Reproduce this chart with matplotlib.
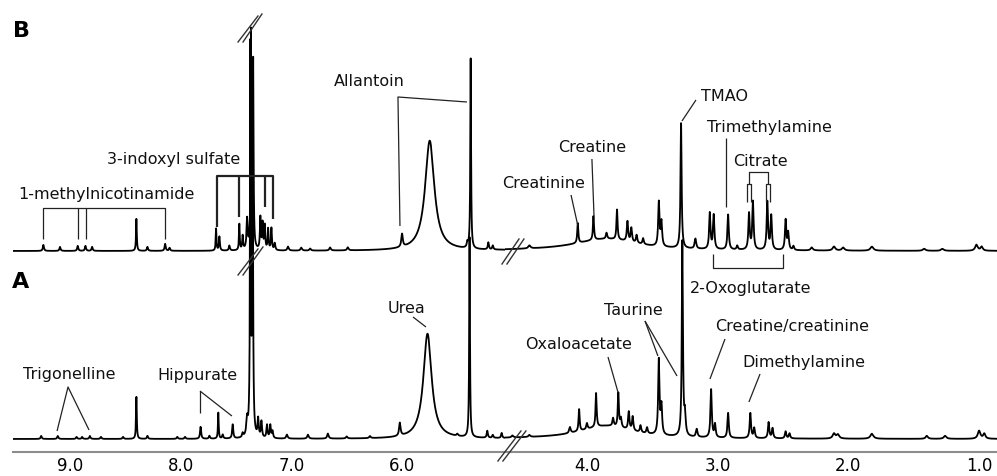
import numpy as np
import matplotlib
matplotlib.use("Agg")
import matplotlib.pyplot as plt

# ---------------- data: peak lists (ppm, height, half-width) ----------------
A_ppm = [9.26, 9.11, 8.94, 8.89, 8.82, 8.72, 8.52, 8.40, 8.30, 8.03, 7.96, 7.82, 7.74, 7.66, 7.62,
         7.53, 7.44, 7.40, 7.37, 7.35, 7.30, 7.27, 7.22, 7.19, 7.17, 7.04, 6.85, 6.67, 6.50, 6.29,
         6.02, 5.77, 5.50, 5.39, 5.23, 5.18, 5.10,
         4.57, 4.44, 4.13, 4.06, 4.00, 3.93, 3.80, 3.76, 3.74, 3.68, 3.65, 3.59, 3.54, 3.85,
         3.45, 3.43, 3.27, 3.25, 3.16, 3.05, 3.02, 2.92, 2.75, 2.72, 2.61, 2.58, 2.48, 2.45,
         2.11, 2.08, 1.82, 1.40, 1.26, 1.00, 0.96]
A_height = [3, 3, 2, 2, 3, 2, 2, 42, 3, 2, 2, 12, 3, 26, 4,
            14, 4, 16, 385, 355, 18, 16, 13, 13, 7, 4, 4, 5, 2, 2,
            13, 105, 2, 200, 7, 3, 5,
            2, 2, 6, 22, 6, 34, 8, 34, 9, 18, 14, 7, 6, 13,
            75, 28, 195, 20, 8, 48, 13, 25, 25, 10, 16, 10, 7, 5,
            5, 4, 5, 3, 3, 8, 5]
A_width = [.006, .006, .006, .006, .006, .006, .006, .004, .006, .006, .006, .006, .006, .004, .006,
           .006, .006, .008, .004, .004, .006, .006, .006, .006, .006, .008, .008, .008, .008, .008,
           .008, .045, .008, .004, .006, .006, .006,
           .008, .008, .007, .005, .006, .005, .006, .005, .006, .006, .006, .006, .006, .25,
           .006, .006, .005, .006, .007, .006, .006, .006, .006, .006, .006, .006, .006, .006,
           .012, .012, .014, .01, .012, .012, .01]

B_ppm = [9.24, 9.09, 8.93, 8.86, 8.80, 8.40, 8.30, 8.14, 8.10, 7.68, 7.65, 7.56, 7.47, 7.44, 7.40,
         7.365, 7.345, 7.28, 7.26, 7.24, 7.21, 7.18, 7.15, 7.03, 6.91, 6.83, 6.65, 6.49,
         6.00, 5.75, 5.41, 5.38, 5.22, 5.18,
         4.44, 3.85, 4.07, 3.95, 3.85, 3.77, 3.69, 3.66, 3.62, 3.57, 3.45, 3.43, 3.28, 3.17,
         3.06, 3.03, 2.92, 2.85, 2.76, 2.73, 2.62, 2.59, 2.48, 2.46, 2.42, 2.28, 2.11, 2.04,
         1.82, 1.42, 1.28, 1.02, 0.98]
B_height = [6, 4, 5, 5, 4, 32, 4, 7, 3, 22, 14, 5, 26, 14, 30,
            215, 185, 32, 26, 24, 21, 22, 7, 4, 3, 2, 3, 3,
            13, 110, 5, 190, 7, 4,
            3, 12, 20, 24, 6, 30, 20, 14, 8, 6, 44, 24, 125, 10,
            36, 34, 35, 4, 36, 48, 48, 34, 30, 17, 4, 3, 4, 3,
            4, 2, 2, 6, 4]
B_width = [.006, .006, .006, .006, .006, .004, .006, .006, .006, .004, .005, .006, .004, .005, .006,
           .004, .004, .005, .005, .005, .005, .005, .006, .008, .008, .008, .008, .008,
           .008, .05, .006, .004, .006, .006,
           .01, .3, .005, .005, .006, .005, .006, .006, .006, .006, .006, .006, .005, .007,
           .006, .006, .006, .006, .006, .006, .006, .006, .006, .006, .006, .01, .012, .012,
           .014, .012, .012, .012, .01]

B_offset = 188

left_ticks = [9.0, 8.0, 7.0, 6.0]
right_ticks = [4.0, 3.0, 2.0, 1.0]
left_range = (9.515, 5.07)
right_range = (4.627, 0.863)


def spectrum(x, pos, hgt, wid):
    y = np.zeros_like(x)
    for p, h, w in zip(pos, hgt, wid):
        y += h / (1.0 + ((x - p) / w) ** 2)
    return y


fig = plt.figure(figsize=(9.97, 4.77), dpi=100)
fig.patch.set_facecolor("white")
W, H = 997, 477
axL = fig.add_axes([13 / W, 24 / H, 492 / W, 453 / H])
axR = fig.add_axes([505 / W, 24 / H, 492 / W, 453 / H])

LW = 1.3
for ax, rng, ticks in [(axL, left_range, left_ticks), (axR, right_range, right_ticks)]:
    x = np.arange(rng[1] - 0.01, rng[0] + 0.01, 0.0005)
    yA = spectrum(x, A_ppm, A_height, A_width)
    yB = spectrum(x, B_ppm, B_height, B_width) + B_offset
    ax.plot(x, yA, color="black", lw=LW, zorder=3)
    ax.plot(x, yB, color="black", lw=LW, zorder=3)
    ax.set_xlim(*rng)
    ax.set_ylim(-13, 440)
    ax.set_xticks(ticks)
    ax.set_xticklabels([f"{t:.1f}" for t in ticks], fontsize=12)
    ax.tick_params(axis="x", length=0, pad=3)
    ax.set_yticks([])
    for s in ["top", "left", "right"]:
        ax.spines[s].set_visible(False)
    ax.spines["bottom"].set_color("#8c8c8c")
    ax.spines["bottom"].set_linewidth(1.5)
    ax.patch.set_alpha(0)

FS = 11.5
lc = "#222222"
lw = 0.9


def txt(ax, x, y, s):
    ax.text(x, y, s, fontsize=FS, ha="left", va="baseline", color="#111111", clip_on=False, zorder=5)


def line(ax, xs, ys, w=lw):
    ax.plot(xs, ys, color=lc, lw=w, clip_on=False, zorder=4, solid_capstyle="butt")


# ---- B annotations ----
txt(axL, 9.47, 241, "1-methylnicotinamide")
line(axL, [9.244, 9.244, 8.142, 8.142], [200, 231, 231, 200])
line(axL, [8.928, 8.928], [231, 200])
line(axL, [8.855, 8.855], [231, 200])

txt(axL, 8.666, 276, "3-indoxyl sulfate")
line(axL, [7.672, 7.672, 7.166, 7.166], [212, 263, 263, 220], w=1.6)
line(axL, [7.473, 7.473], [263, 222], w=1.6)
line(axL, [7.238, 7.238], [263, 232], w=1.6)

txt(axL, 6.615, 354, "Allantoin")
line(axL, [6.019, 6.037, 5.414], [213, 342, 337])

txt(axR, 4.650, 252, "Creatinine")
line(axR, [4.122, 4.069], [244, 213])
txt(axR, 4.222, 288, "Creatine")
line(axR, [3.962, 3.946], [280, 223])

txt(axR, 3.128, 339, "TMAO")
line(axR, [3.166, 3.273], [339, 318])
txt(axR, 3.082, 308, "Trimethylamine")
line(axR, [2.936, 2.936], [301, 232])
txt(axR, 2.883, 274, "Citrate")
line(axR, [2.761, 2.761, 2.615, 2.615], [255, 267, 267, 255])
for c in [2.761, 2.615]:
    line(axR, [c + 0.015, c + 0.015, c - 0.016, c - 0.016], [237, 255, 255, 237])

line(axR, [3.036, 3.036, 2.500, 2.500], [185, 171, 171, 185])
txt(axR, 3.212, 147, "2-Oxoglutarate")

# ---- A annotations ----
txt(axL, 9.425, 61, "Trigonelline")
line(axL, [9.117, 9.018, 8.828], [8, 52, 9])
txt(axL, 8.214, 60, "Hippurate")
line(axL, [7.826, 7.826], [26, 48])
line(axL, [7.826, 7.537], [48, 23])
txt(axL, 6.127, 127, "Urea")
line(axL, [5.901, 5.784], [122, 112])

txt(axR, 4.474, 91, "Oxaloacetate")
line(axR, [3.839, 3.763], [82, 47])
txt(axR, 3.870, 125, "Taurine")
line(axR, [3.556, 3.457], [118, 83])
line(axR, [3.556, 3.311], [118, 63])
txt(axR, 3.021, 109, "Creatine/creatinine")
line(axR, [2.944, 3.059], [100, 60])
txt(axR, 2.814, 73, "Dimethylamine")
line(axR, [2.676, 2.761], [65, 37])

# ---- break marks ----
bk = dict(color="#333333", lw=1.0, clip_on=False, zorder=6)
axL.plot([7.482, 7.302], [397, 423], **bk)
axL.plot([7.437, 7.266], [397, 425], **bk)
axL.plot([7.482, 7.302], [164, 190], **bk)
axL.plot([7.437, 7.257], [164, 192], **bk)
axR.plot([4.650, 4.520], [175, 200], **bk)
axR.plot([4.612, 4.482], [175, 200], **bk)
axR.plot([4.681, 4.505], [-22, 8], **bk)
axR.plot([4.643, 4.467], [-22, 8], **bk)

# ---- panel letters ----
fig.text(13 / W, 1 - 37 / H, "B", fontsize=16, fontweight="bold", ha="left", va="baseline")
fig.text(12 / W, 1 - 288 / H, "A", fontsize=16, fontweight="bold", ha="left", va="baseline")

fig.savefig("out.png", dpi=100, facecolor="white")
